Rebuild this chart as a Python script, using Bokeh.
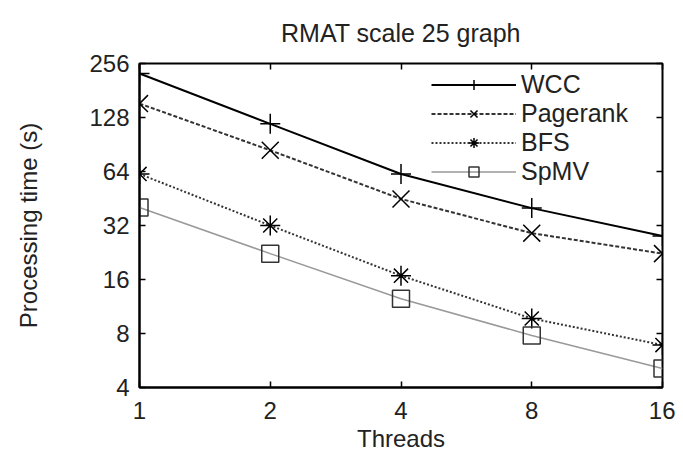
from bokeh.plotting import figure
from bokeh.models import FixedTicker, LogAxis, Legend, LegendItem, Range1d
from bokeh.embed import file_html
from bokeh.resources import INLINE

threads = [1, 2, 4, 8, 16]
wcc = [225, 118, 62, 40, 28]
pagerank = [153, 84, 45, 29, 22.3]
bfs = [62, 32, 16.8, 9.7, 6.9]
spmv = [40.3, 22.3, 12.5, 7.8, 5.1]
x_ticks = [1, 2, 4, 8, 16]
y_ticks = [4, 8, 16, 32, 64, 128, 256]

FONT = "Liberation Sans"

p = figure(width=675, height=461, x_axis_type="log", y_axis_type="log",
           x_range=Range1d(1, 16), y_range=Range1d(4, 256),
           output_backend="svg", toolbar_location=None,
           min_border_left=139, min_border_right=13, min_border_top=63, min_border_bottom=74,
           title="RMAT scale 25 graph")
p.title.text_font = FONT
p.title.text_font_size = "25px"
p.title.text_font_style = "normal"
p.title.align = "center"
p.title.text_color = "#222222"
p.title.standoff = 33

p.grid.visible = False
p.outline_line_color = "black"
p.outline_line_width = 2

for ax in p.xaxis:
    ax.ticker = FixedTicker(ticks=x_ticks, minor_ticks=[])
    ax.major_label_overrides = {t: str(t) for t in x_ticks}
    ax.axis_label = "Threads"
for ax in p.yaxis:
    ax.ticker = FixedTicker(ticks=y_ticks, minor_ticks=[])
    ax.major_label_overrides = {t: str(t) for t in y_ticks}
    ax.axis_label = "Processing time (s)"

for ax in p.xaxis + p.yaxis:
    ax.axis_line_width = 2
    ax.major_tick_in = 6
    ax.major_tick_out = 0
    ax.major_tick_line_width = 1.5
    ax.minor_tick_line_color = None
    ax.major_label_text_font = FONT
    ax.major_label_text_font_size = "24px"
    ax.major_label_text_color = "#222222"
    ax.axis_label_text_font = FONT
    ax.axis_label_text_font_size = "24px"
    ax.axis_label_text_font_style = "normal"
    ax.axis_label_text_color = "#222222"
p.xaxis.major_label_standoff = 14
p.yaxis.major_label_standoff = 10
p.xaxis.axis_label_standoff = 3
p.yaxis.axis_label_standoff = 44

for side, ticks in (("right", y_ticks), ("above", x_ticks)):
    a = LogAxis(ticker=FixedTicker(ticks=ticks, minor_ticks=[]))
    a.major_label_overrides = {t: "" for t in ticks}
    a.major_label_standoff = 0
    a.major_tick_in = 6
    a.major_tick_out = 0
    a.major_tick_line_width = 1.5
    a.axis_line_color = None
    a.minor_tick_line_color = None
    p.add_layout(a, side)

l1 = p.line(threads, wcc, line_color="black", line_width=2)
m1 = p.scatter(threads, wcc, marker="cross", size=20, line_color="black", line_width=1.5)
l2 = p.line(threads, pagerank, line_color="#333333", line_width=2, line_dash="4 2")
m2 = p.scatter(threads, pagerank, marker="x", size=24, line_color="black", line_width=1.5)
l3 = p.line(threads, bfs, line_color="#333333", line_width=2, line_dash="2 2")
m3 = p.scatter(threads, bfs, marker="asterisk", size=20, line_color="black", line_width=1.5)
l4 = p.line(threads, spmv, line_color="#999999", line_width=1.5)
m4 = p.scatter(threads, spmv, marker="square", size=17, line_color="#333333", fill_color=None, line_width=1.5)

legend = Legend(items=[
    LegendItem(label="WCC", renderers=[l1, m1]),
    LegendItem(label="Pagerank", renderers=[l2, m2]),
    LegendItem(label="BFS", renderers=[l3, m3]),
    LegendItem(label="SpMV", renderers=[l4, m4]),
], location=(292, 201))
legend.background_fill_alpha = 0
legend.border_line_color = None
legend.label_text_font = FONT
legend.label_text_font_size = "25px"
legend.label_text_color = "#222222"
legend.glyph_width = 85
legend.glyph_height = 25
legend.label_height = 25
legend.spacing = 0
legend.padding = 4
legend.margin = 0
p.add_layout(legend)

open("out.html", "w").write(file_html(p, INLINE))
